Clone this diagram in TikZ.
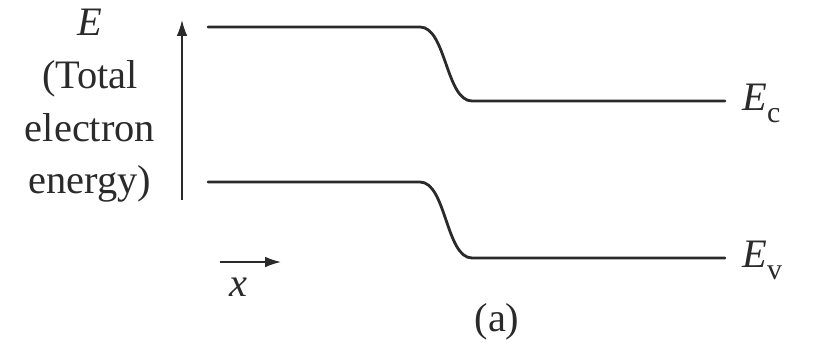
\documentclass[tikz,border=0pt]{standalone}
\usepackage{fontspec}
\setmainfont{Liberation Serif}
\usetikzlibrary{arrows.meta,positioning}
\definecolor{ink}{HTML}{2A2A2A}

\begin{document}
\begin{tikzpicture}[x=0.02cm,y=-0.02cm,
  band/.style={line width=1.6pt,color=ink,line cap=round},
  axis/.style={-{Latex[length=9pt,width=6pt]},line width=0.9pt,color=ink},
  lbl/.style={font=\fontsize{23}{30}\selectfont,color=ink,inner sep=0pt,align=center}
]
  \useasboundingbox (0,0) rectangle (820,342);
  % energy axis and label
  \coordinate (ybot) at (182,200);
  \coordinate (ytop) at (182,20);
  \draw[axis] (ybot) -- (ytop);
  \node[lbl] (elabel) at (90,106) {\textit{E}\\(Total\\electron\\energy)};
  % position axis
  \coordinate (xleft) at (220,262);
  \coordinate (xright) at (281,262);
  \draw[axis] (xleft) -- (xright);
  \node[lbl] (xlabel) at (238,287) {\textit{x}};
  % conduction band edge
  \coordinate (c1) at (208,27);
  \coordinate (c2) at (420,27);
  \coordinate (c3) at (472,101);
  \coordinate (c4) at (725,101);
  \draw[band] (c1) -- (c2) .. controls (446,27) and (446,101) .. (c3) -- (c4);
  \node[lbl,anchor=west] (ec) at (742,103) {\textit{E}\raisebox{-0.3em}{\fontsize{17}{17}\selectfont c}};
  % valence band edge
  \coordinate (v1) at (208,182);
  \coordinate (v2) at (420,182);
  \coordinate (v3) at (472,258);
  \coordinate (v4) at (725,258);
  \draw[band] (v1) -- (v2) .. controls (446,182) and (446,258) .. (v3) -- (v4);
  \node[lbl,anchor=west] (ev) at (742,260) {\textit{E}\raisebox{-0.3em}{\fontsize{17}{17}\selectfont v}};
  \node[lbl] (cap) at (497,322) {(a)};
\end{tikzpicture}
\end{document}
